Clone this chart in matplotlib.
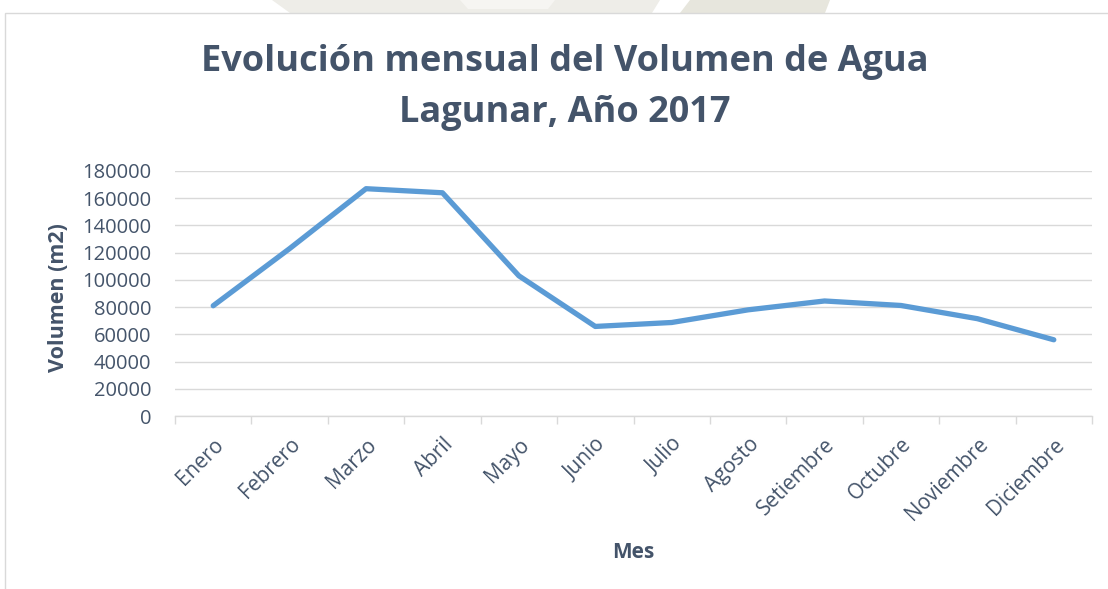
import matplotlib
matplotlib.use("Agg")
import matplotlib.pyplot as plt
from matplotlib.patches import Rectangle, Polygon

months = ["Enero", "Febrero", "Marzo", "Abril", "Mayo", "Junio", "Julio",
          "Agosto", "Setiembre", "Octubre", "Noviembre", "Diciembre"]
volumen = [81000, 123000, 167000, 164000, 103000, 65800, 68700,
           78000, 84500, 81200, 71500, 56000]
yticks = list(range(0, 180001, 20000))

W, H = 1108, 589
TXT = "#44546A"
fig = plt.figure(figsize=(W / 100, H / 100), dpi=100)
fig.patch.set_facecolor("white")


def px(xp, yp):
    return (xp / W, 1 - yp / H)


# faint watermark strip above the chart frame
for pts, col in [
    ([(272, 0), (660, 0), (652, 13), (290, 13)], "#EEEDE8"),
    ([(690, 0), (830, 0), (825, 13), (680, 13)], "#E7E6DD"),
    ([(460, 0), (555, 0), (548, 9), (468, 9)], "#F6F5F2"),
]:
    fig.patches.append(Polygon([px(*p) for p in pts], closed=True,
                               transform=fig.transFigure, facecolor=col,
                               edgecolor="none", zorder=-3))

# chart border
fig.patches.append(Rectangle((5 / W, -0.1), 1.2, (1 - 13 / H) + 0.1,
                             transform=fig.transFigure, facecolor="white",
                             edgecolor="#D9D9D9", linewidth=1, zorder=-2))

ax = fig.add_axes([175 / W, 1 - 416 / H, (1092 - 175) / W, (416 - 171) / H])
ax.set_facecolor("none")
ax.set_zorder(2)
x = list(range(len(months)))
ax.plot(x, volumen, color="#5B9BD5", linewidth=3.8, solid_capstyle="round",
        solid_joinstyle="round", zorder=3)

ax.set_xlim(-0.5, len(months) - 0.5)
ax.set_ylim(0, 180000)
ax.set_yticks(yticks)
ax.set_yticklabels([str(v) for v in yticks])
ax.set_xticks(x)
ax.set_xticklabels(months, rotation=45, ha="right", rotation_mode="anchor")
ax.set_xticks([i - 0.5 for i in range(len(months) + 1)], minor=True)

ax.grid(axis="y", color="#D9D9D9", linewidth=1)
ax.set_axisbelow(True)
for s in ["top", "right", "left"]:
    ax.spines[s].set_visible(False)
ax.spines["bottom"].set_color("#D9D9D9")
ax.spines["bottom"].set_linewidth(1)

ax.tick_params(axis="y", length=0, pad=17, labelsize=14.5, labelcolor=TXT,
               labelfontfamily="Open Sans")
ax.tick_params(axis="x", which="major", length=0, pad=13, labelsize=15,
               labelcolor=TXT, labelfontfamily="Open Sans")
ax.tick_params(axis="x", which="minor", length=6, color="#D9D9D9", width=1)

fig.text(565 / W, 1 - 62 / H, "Evolución mensual del Volumen de Agua",
         ha="center", va="center", fontsize=26, fontweight="bold",
         color=TXT, family="Open Sans")
fig.text(565 / W, 1 - 113 / H, "Lagunar, Año 2017",
         ha="center", va="center", fontsize=26, fontweight="bold",
         color=TXT, family="Open Sans")

fig.text(58 / W, 1 - 298 / H, "Volumen (m2)", rotation=90, ha="center",
         va="center", fontsize=15.5, fontweight="bold", color=TXT,
         family="Open Sans")
fig.text(633 / W, 1 - 552 / H, "Mes", ha="center", va="center",
         fontsize=15, fontweight="bold", color=TXT, family="Open Sans")

fig.savefig("out.png", dpi=100)
